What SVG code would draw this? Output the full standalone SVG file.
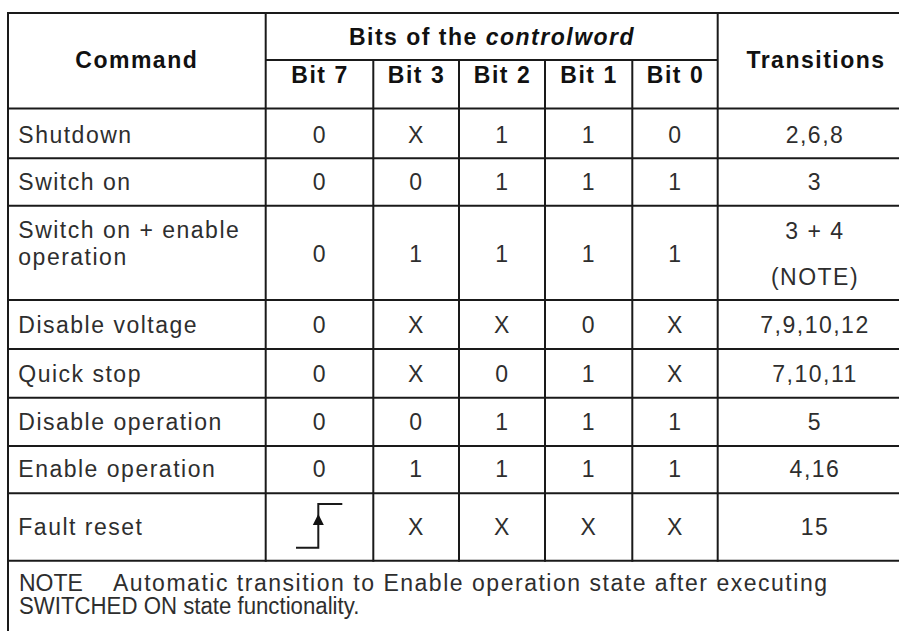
<svg xmlns="http://www.w3.org/2000/svg" width="899" height="631" viewBox="0 0 899 631">
<style>
.ln{stroke:#1a1a1a;stroke-width:2;fill:none}
.h{font-family:"Liberation Sans",Arial,sans-serif;font-size:23px;font-weight:bold;letter-spacing:1.5px;fill:#111;text-anchor:middle}
.t{font-family:"Liberation Sans",Arial,sans-serif;font-size:23px;letter-spacing:1.5px;fill:#2e2e2e}
.c{text-anchor:middle}
.n{font-family:"Liberation Sans",Arial,sans-serif;font-size:23px;fill:#2e2e2e}
</style>
<rect width="899" height="631" fill="#fff"/>
<g id="grid">
<line class="ln" x1="8" y1="13" x2="899" y2="13"/>
<line class="ln" x1="265.7" y1="60" x2="717.7" y2="60"/>
<line class="ln" x1="8" y1="108.5" x2="899" y2="108.5"/>
<line class="ln" x1="8" y1="158.3" x2="899" y2="158.3"/>
<line class="ln" x1="8" y1="205.7" x2="899" y2="205.7"/>
<line class="ln" x1="8" y1="300" x2="899" y2="300"/>
<line class="ln" x1="8" y1="349" x2="899" y2="349"/>
<line class="ln" x1="8" y1="397.7" x2="899" y2="397.7"/>
<line class="ln" x1="8" y1="446" x2="899" y2="446"/>
<line class="ln" x1="8" y1="493.3" x2="899" y2="493.3"/>
<line class="ln" x1="8" y1="560.7" x2="899" y2="560.7"/>
<line class="ln" x1="8" y1="12" x2="8" y2="631"/>
<line class="ln" x1="265.7" y1="12" x2="265.7" y2="561.7"/>
<line class="ln" x1="373.3" y1="60" x2="373.3" y2="561.7"/>
<line class="ln" x1="459" y1="60" x2="459" y2="561.7"/>
<line class="ln" x1="545" y1="60" x2="545" y2="561.7"/>
<line class="ln" x1="632.3" y1="60" x2="632.3" y2="561.7"/>
<line class="ln" x1="717.7" y1="12" x2="717.7" y2="561.7"/>
</g>
<g id="header">
<text class="h" x="136.8" y="68.3">Command</text>
<text class="h" x="492" y="45">Bits of the <tspan font-style="italic">controlword</tspan></text>
<text class="h" x="816" y="68.3">Transitions</text>
<text class="h" x="320" y="83.3">Bit 7</text>
<text class="h" x="416.5" y="83.3">Bit 3</text>
<text class="h" x="502.5" y="83.3">Bit 2</text>
<text class="h" x="589" y="83.3">Bit 1</text>
<text class="h" x="675.5" y="83.3">Bit 0</text>
</g>
<g id="row-shutdown" class="t">
<text x="18.3" y="143">Shutdown</text>
<text class="c" x="320" y="143">0</text><text class="c" x="416.5" y="143">X</text><text class="c" x="502.5" y="143">1</text><text class="c" x="589" y="143">1</text><text class="c" x="675.5" y="143">0</text>
<text class="c" x="815" y="143">2,6,8</text>
</g>
<g id="row-switch-on" class="t">
<text x="18.3" y="190">Switch on</text>
<text class="c" x="320" y="190">0</text><text class="c" x="416.5" y="190">0</text><text class="c" x="502.5" y="190">1</text><text class="c" x="589" y="190">1</text><text class="c" x="675.5" y="190">1</text>
<text class="c" x="815" y="190">3</text>
</g>
<g id="row-switch-on-enable" class="t">
<text x="18.3" y="237.5">Switch on + enable</text>
<text x="18.3" y="265">operation</text>
<text class="c" x="320" y="261.5">0</text><text class="c" x="416.5" y="261.5">1</text><text class="c" x="502.5" y="261.5">1</text><text class="c" x="589" y="261.5">1</text><text class="c" x="675.5" y="261.5">1</text>
<text class="c" x="815" y="238.5">3 + 4</text>
<text class="c" x="815" y="285">(NOTE)</text>
</g>
<g id="row-disable-voltage" class="t">
<text x="18.3" y="333">Disable voltage</text>
<text class="c" x="320" y="333">0</text><text class="c" x="416.5" y="333">X</text><text class="c" x="502.5" y="333">X</text><text class="c" x="589" y="333">0</text><text class="c" x="675.5" y="333">X</text>
<text class="c" x="815" y="333">7,9,10,12</text>
</g>
<g id="row-quick-stop" class="t">
<text x="18.3" y="382">Quick stop</text>
<text class="c" x="320" y="382">0</text><text class="c" x="416.5" y="382">X</text><text class="c" x="502.5" y="382">0</text><text class="c" x="589" y="382">1</text><text class="c" x="675.5" y="382">X</text>
<text class="c" x="815" y="382">7,10,11</text>
</g>
<g id="row-disable-operation" class="t">
<text x="18.3" y="430">Disable operation</text>
<text class="c" x="320" y="430">0</text><text class="c" x="416.5" y="430">0</text><text class="c" x="502.5" y="430">1</text><text class="c" x="589" y="430">1</text><text class="c" x="675.5" y="430">1</text>
<text class="c" x="815" y="430">5</text>
</g>
<g id="row-enable-operation" class="t">
<text x="18.3" y="477">Enable operation</text>
<text class="c" x="320" y="477">0</text><text class="c" x="416.5" y="477">1</text><text class="c" x="502.5" y="477">1</text><text class="c" x="589" y="477">1</text><text class="c" x="675.5" y="477">1</text>
<text class="c" x="815" y="477">4,16</text>
</g>
<g id="row-fault-reset" class="t">
<text x="18.3" y="535">Fault reset</text>
<path class="ln" d="M296 547.7 H318.3 V504 H342.3"/>
<polygon points="318.3,514 312.8,525 323.8,525" fill="#111"/>
<text class="c" x="416.5" y="535">X</text><text class="c" x="502.5" y="535">X</text><text class="c" x="589" y="535">X</text><text class="c" x="675.5" y="535">X</text>
<text class="c" x="815" y="535">15</text>
</g>
<g id="note" class="n">
<text x="19" y="590.5">NOTE</text>
<text x="113" y="590.5" textLength="714" lengthAdjust="spacing">Automatic transition to Enable operation state after executing</text>
<text x="19.67" y="614" transform="scale(0.966,1)">SWITCHED ON state functionality.</text>
</g>
</svg>
